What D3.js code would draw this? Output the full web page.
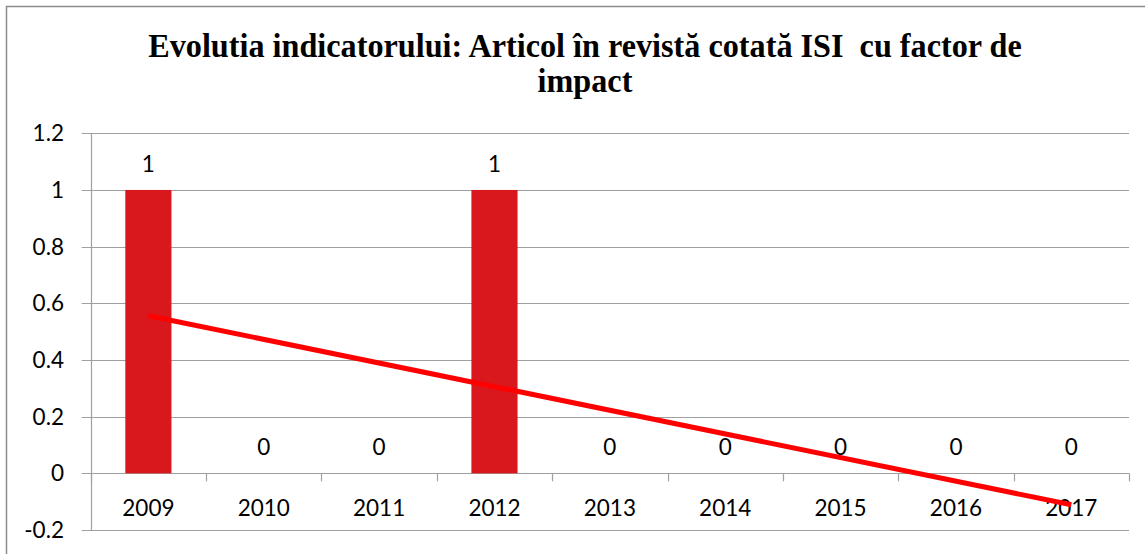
<!DOCTYPE html>
<html><head><meta charset="utf-8">
<script src="https://cdn.jsdelivr.net/npm/d3@7"></script>
<style>body{margin:0;background:#fff;} svg{display:block;} text{white-space:pre;}</style>
</head><body>
<svg id="c" width="1145" height="554"></svg>
<script>
const years = ["2009","2010","2011","2012","2013","2014","2015","2016","2017"];
const values = [1,0,0,1,0,0,0,0,0];
const trendEnds = [0.556,-0.111]; // linear trendline values at first and last category
const yTicks = [-0.2,0,0.2,0.4,0.6,0.8,1,1.2];
const yTickLabels = ["-0.2","0","0.2","0.4","0.6","0.8","1","1.2"];
const titleLines = ["Evolutia indicatorului: Articol în revistă cotată ISI  cu factor de","impact"];

const svg = d3.select("#c");
const W=1145,H=554;
const pL=90.7,pR=1129,pT=133.3,pB=530;
svg.append("rect").attr("x",6.5).attr("y",6.5).attr("width",W+20).attr("height",H+20)
  .attr("fill","#fff").attr("stroke","#8c8c8c").attr("stroke-width",1.5);

const x = d3.scaleBand().domain(years).range([pL,pR]).paddingInner(0.6).paddingOuter(0.3);
const xc = d3.scaleBand().domain(years).range([pL,pR]);
const y = d3.scaleLinear().domain([-0.2,1.2]).range([pB,pT]);

// gridlines
svg.append("g").selectAll("line").data(yTicks).join("line")
  .attr("x1",pL-9).attr("x2",pR).attr("y1",d=>Math.round(y(d))+0.5).attr("y2",d=>Math.round(y(d))+0.5)
  .attr("stroke","#a0a0a0").attr("stroke-width",1.2);
// y axis line
svg.append("line").attr("x1",Math.round(pL)+0.5).attr("x2",Math.round(pL)+0.5).attr("y1",y(1.2)).attr("y2",y(-0.2))
  .attr("stroke","#a0a0a0").attr("stroke-width",1.2);
// category ticks on zero line
const bounds = years.map(d=>xc(d)).concat([pR]);
svg.append("g").selectAll("line").data(bounds).join("line")
  .attr("x1",d=>Math.round(d)+0.5).attr("x2",d=>Math.round(d)+0.5)
  .attr("y1",y(0)).attr("y2",y(0)+8).attr("stroke","#a0a0a0").attr("stroke-width",1.2);

const font = "Lato, 'Open Sans', sans-serif";
// y labels
svg.append("g").selectAll("text").data(yTicks).join("text")
  .attr("x",64).attr("y",d=>y(d)).attr("dy","0.36em").attr("text-anchor","end")
  .attr("font-family",font).attr("font-size",22.5).attr("fill","#000")
  .text((d,i)=>yTickLabels[i]);

// bars
svg.append("g").selectAll("rect").data(values.map((v,i)=>({k:years[i],v}))).join("rect")
  .attr("x",d=>x(d.k)).attr("width",x.bandwidth())
  .attr("y",d=>y(Math.max(0,d.v))).attr("height",d=>Math.abs(y(d.v)-y(0)))
  .attr("fill","#d9181e");

// data labels
svg.append("g").selectAll("text").data(values.map((v,i)=>({k:years[i],v}))).join("text")
  .attr("x",d=>xc(d.k)+xc.bandwidth()/2).attr("y",d=>y(d.v)-26).attr("dy","0.36em")
  .attr("text-anchor","middle").attr("font-family",font).attr("font-size",22.5).text(d=>d.v);

// x labels
svg.append("g").selectAll("text").data(years).join("text")
  .attr("x",d=>xc(d)+xc.bandwidth()/2).attr("y",508).attr("dy","0.36em")
  .attr("text-anchor","middle").attr("font-family",font).attr("font-size",22.5).text(d=>d);

// trendline
const c0 = xc(years[0])+xc.bandwidth()/2, c1 = xc(years[years.length-1])+xc.bandwidth()/2;
svg.append("line").attr("x1",c0).attr("y1",y(trendEnds[0])).attr("x2",c1).attr("y2",y(trendEnds[1]))
  .attr("stroke","#ff0000").attr("stroke-width",5);

// title
const tg = svg.append("g");
const tf = "'Liberation Serif','Times New Roman',serif";
const t1 = tg.append("text").attr("x",0).attr("y",0).attr("text-anchor","middle")
  .attr("font-family",tf).attr("font-weight","bold").attr("font-size",34.5)
  .text(titleLines[0]);
const t2 = tg.append("text").attr("x",0).attr("y",35).attr("text-anchor","middle")
  .attr("font-family",tf).attr("font-weight","bold").attr("font-size",34.5)
  .text(titleLines[1]);
const w = t1.node().getComputedTextLength();
const sx = 874/w;
tg.attr("transform",`translate(585,57) scale(${sx},1)`);
</script>
</body></html>
